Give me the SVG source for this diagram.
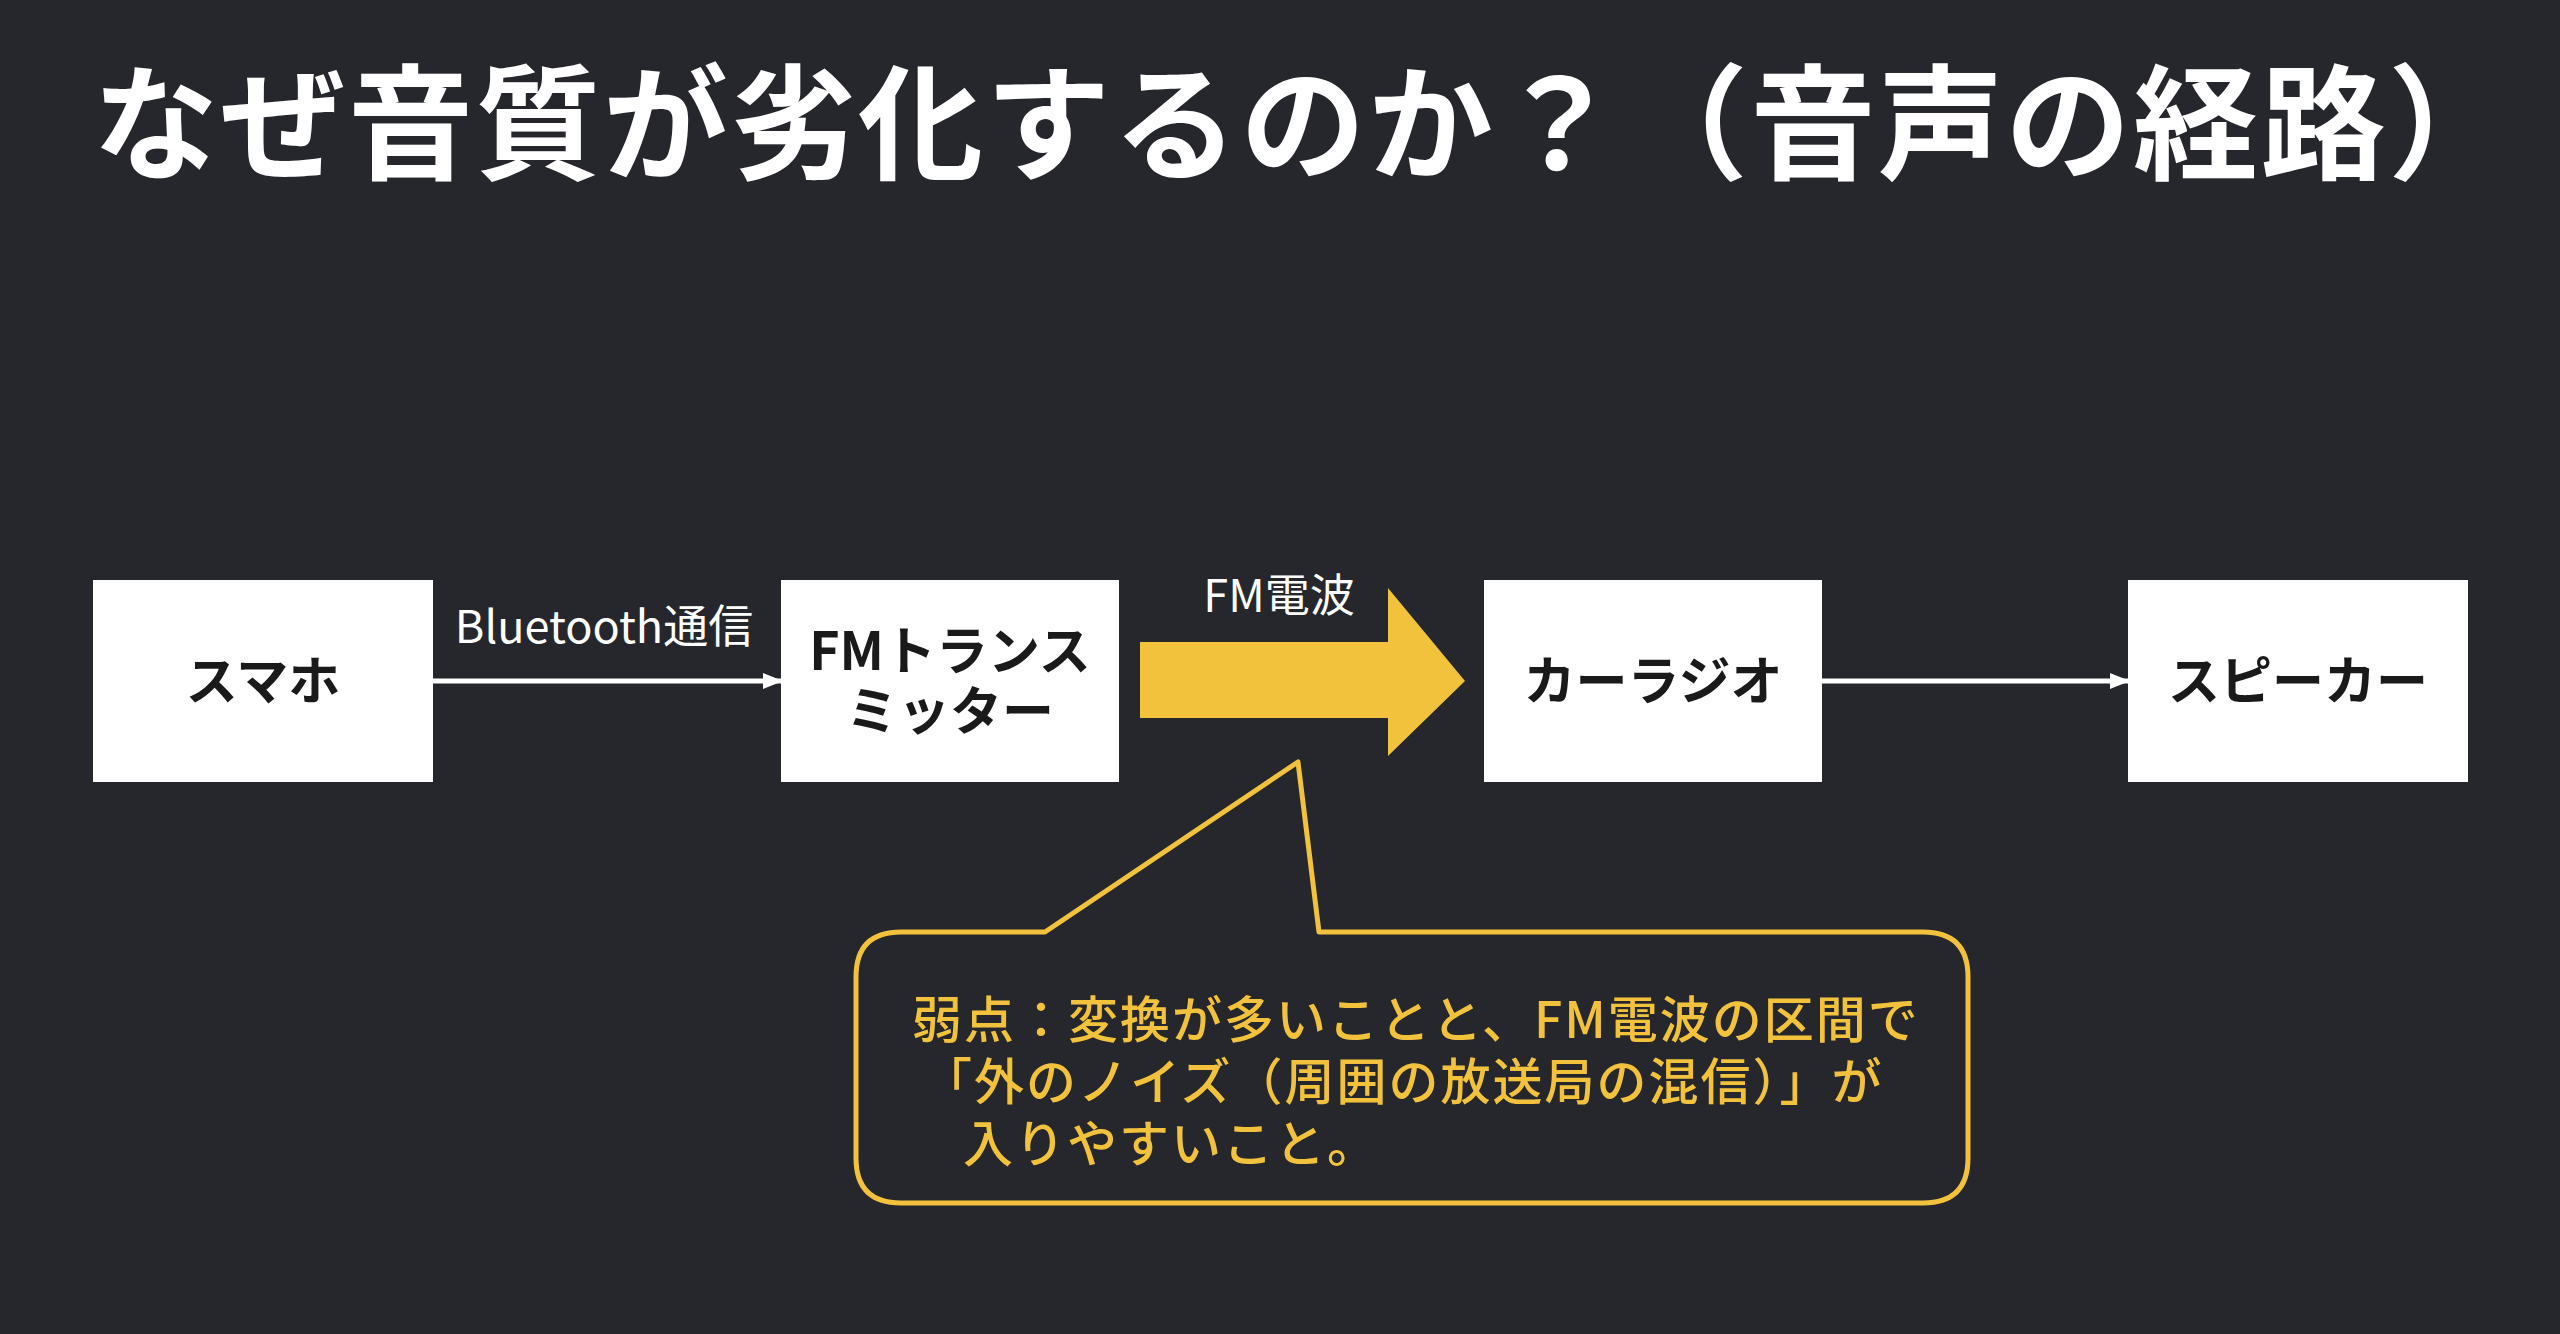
<svg xmlns="http://www.w3.org/2000/svg" width="2560" height="1334" viewBox="0 0 2560 1334">
<defs>
<style>
.t{font-family:"Noto Sans CJK JP","Liberation Sans",sans-serif}
.box{fill:#ffffff}
.bt{font-size:52px;font-weight:700;fill:#1a1a1a;text-anchor:middle}
.lbl{font-size:45px;fill:#ffffff;text-anchor:middle}
.c{stroke:#ffffff;stroke-width:5;fill:none}
.ct{font-size:50px;fill:#f2c23c;font-weight:500;letter-spacing:2px}
</style>
<marker id="ah" markerWidth="20" markerHeight="20" refX="18" refY="10" orient="auto" markerUnits="userSpaceOnUse" viewBox="0 0 20 20">
<path d="M0,2 L20,10 L0,18 z" fill="#ffffff"/>
</marker>
</defs>
<rect width="2560" height="1334" fill="#25272c"/>
<text class="t" x="93" y="170" font-size="125" font-weight="700" fill="#ffffff" letter-spacing="2.5">なぜ音質が劣化するのか？（音声の経路）</text>
<g id="connectors">
<line class="c" x1="433" y1="681" x2="781" y2="681" marker-end="url(#ah)"/>
<text class="t lbl" x="604" y="643">Bluetooth通信</text>
<polygon points="1140,642 1388,642 1388,588 1465,681 1388,756 1388,718 1140,718" fill="#f2c23c"/>
<text class="t lbl" x="1279" y="612">FM電波</text>
<line class="c" x1="1822" y1="681" x2="2128" y2="681" marker-end="url(#ah)"/>
</g>
<g id="n1"><rect class="box" x="93" y="580" width="340" height="202"/><text class="t bt" x="263" y="700">スマホ</text></g>
<g id="n2"><rect class="box" x="781" y="580" width="338" height="202"/><text class="t bt" x="950" y="670">FMトランス</text><text class="t bt" x="950" y="730">ミッター</text></g>
<g id="n3"><rect class="box" x="1484" y="580" width="338" height="202"/><text class="t bt" x="1653" y="700">カーラジオ</text></g>
<g id="n4"><rect class="box" x="2128" y="580" width="340" height="202"/><text class="t bt" x="2298" y="700">スピーカー</text></g>
<g id="callout">
<path d="M901,932 L1045,932 L1298,762 L1319,932 L1923,932 Q1968,932 1968,977 L1968,1158 Q1968,1203 1923,1203 L901,1203 Q856,1203 856,1158 L856,977 Q856,932 901,932 Z" fill="none" stroke="#f2c23c" stroke-width="5" stroke-linejoin="round"/>
<text class="t ct" x="912" y="1038">弱点：変換が多いことと、FM電波の区間で</text>
<text class="t ct" x="922" y="1100">「外のノイズ（周囲の放送局の混信）」が</text>
<text class="t ct" x="963" y="1162">入りやすいこと。</text>
</g>
</svg>
